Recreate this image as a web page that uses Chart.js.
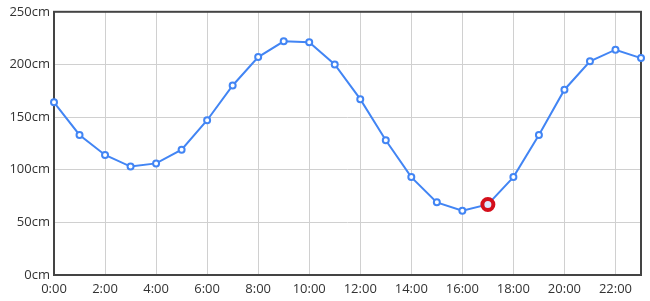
<!DOCTYPE html>
<html>
<head>
<meta charset="utf-8">
<script src="https://cdn.jsdelivr.net/npm/chart.js@4"></script>
<style>
html,body{margin:0;padding:0;background:#fff;}
#wrap{width:650px;height:301px;position:relative;}
</style>
</head>
<body>
<div id="wrap"><canvas id="c"></canvas></div>
<script>
const hours = [0,1,2,3,4,5,6,7,8,9,10,11,12,13,14,15,16,17,18,19,20,21,22,23];
const tideCm = [164,133,114,103,106,119,147,180,207,222,221,200,167,128,93,69,61,67,93,133,176,203,214,206];
const highlightIndex = 17;
const yTicks = [0,50,100,150,200,250];
const xTickStep = 2;

const frame = {
  id:'frame',
  beforeDatasetsDraw(chart){
    const a = chart.chartArea, ctx = chart.ctx;
    ctx.save();
    ctx.strokeStyle = '#444';
    ctx.lineWidth = 2;
    ctx.strokeRect(a.left, a.top, a.right - a.left, a.bottom - a.top);
    ctx.restore();
  }
};

new Chart(document.getElementById('c'), {
  type: 'line',
  data: {
    datasets: [{
      data: hours.map((h,i)=>({x:h, y:tideCm[i]})),
      borderColor: '#4285f4',
      borderWidth: 2,
      tension: 0,
      pointRadius: hours.map((h,i)=> i===highlightIndex ? 5.5 : 3),
      pointBorderWidth: hours.map((h,i)=> i===highlightIndex ? 4 : 2),
      pointBorderColor: hours.map((h,i)=> i===highlightIndex ? '#d40f1b' : '#4285f4'),
      pointBackgroundColor: hours.map((h,i)=> i===highlightIndex ? '#dce8ff' : '#ffffff'),
      clip: false
    }]
  },
  options: {
    responsive: true,
    maintainAspectRatio: false,
    animation: false,
    devicePixelRatio: 1,
    layout: { padding: { top: 11, right: 9, left: 0, bottom: 0 } },
    plugins: { legend: { display: false }, tooltip: { enabled: false } },
    scales: {
      x: {
        type: 'linear',
        min: 0, max: 23,
        afterFit(s){ s.height = 26; },
        ticks: {
          stepSize: xTickStep,
          autoSkip: false,
          color: '#333',
          font: { family: 'Open Sans', size: 13 },
          padding: 6,
          callback: v => (v % xTickStep === 0 ? v + ':00' : '')
        },
        grid: { color: '#d0d0d0', lineWidth: 1, drawTicks: false },
        border: { display: false }
      },
      y: {
        min: 0, max: 250,
        afterFit(s){ s.width = 54; },
        afterBuildTicks(s){ s.ticks = yTicks.map(v=>({value:v})); },
        ticks: {
          color: '#333',
          font: { family: 'Open Sans', size: 13 },
          padding: 4,
          callback: v => v + 'cm'
        },
        grid: { color: '#d0d0d0', lineWidth: 1, drawTicks: false },
        border: { display: false }
      }
    }
  },
  plugins: [frame]
});
</script>
</body>
</html>
